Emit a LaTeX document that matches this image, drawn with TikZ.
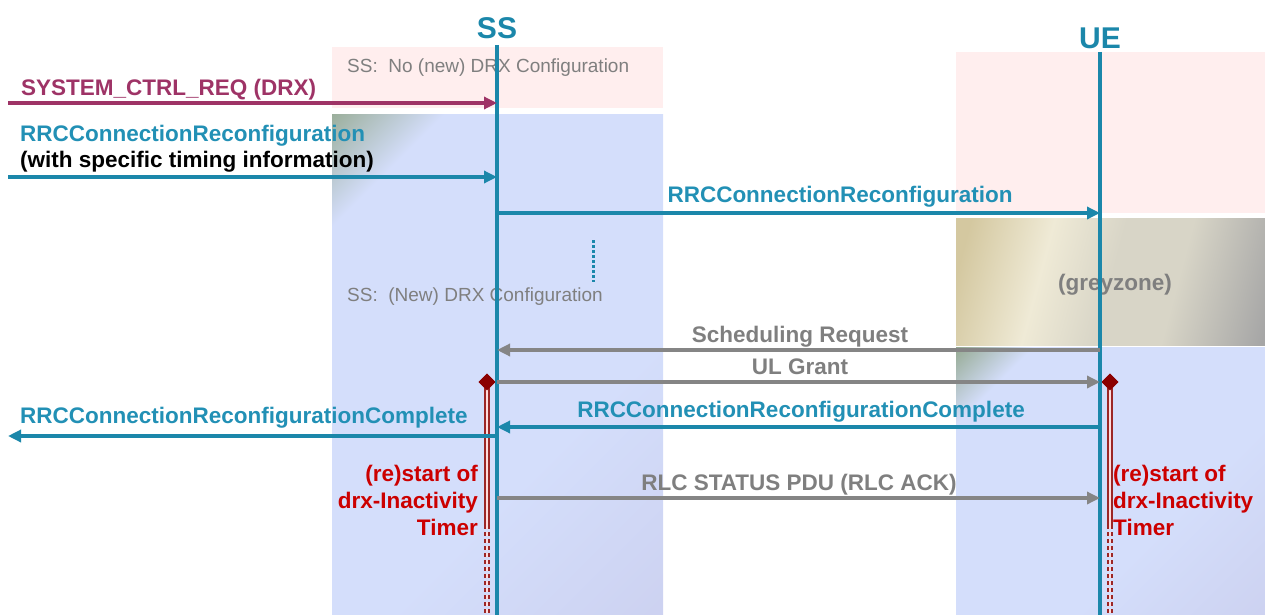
\documentclass[tikz,border=0pt]{standalone}
\usepackage{fontspec}
\setmainfont{Liberation Sans}
\usetikzlibrary{arrows.meta,shapes.geometric}
\definecolor{teal1}{HTML}{1B87AA}
\definecolor{tealtxt}{HTML}{2290B5}
\definecolor{maroon1}{HTML}{9E3366}
\definecolor{grey1}{HTML}{858585}
\definecolor{greytxt}{HTML}{7F7F7F}
\definecolor{red1}{HTML}{CC0000}
\definecolor{dred}{HTML}{8B0000}
\definecolor{pinkbg}{HTML}{FFEEEE}
\definecolor{bluebg}{HTML}{D4DEFB}
\definecolor{purplebg}{HTML}{C8CAEA}
\definecolor{greenbg}{HTML}{93A88E}
\definecolor{tanbg}{HTML}{D4C8A0}
\definecolor{creambg}{HTML}{EFEAD6}
\definecolor{beigebg}{HTML}{D8D5C7}
\definecolor{greybg}{HTML}{A6A6A6}
\pgfdeclarehorizontalshading{ssshade}{100bp}{color(0bp)=(greenbg); color(13bp)=(greenbg); color(24bp)=(bluebg); color(62bp)=(bluebg); color(100bp)=(purplebg)}
\pgfdeclarehorizontalshading{ueshade}{100bp}{color(0bp)=(greenbg); color(14bp)=(greenbg); color(24bp)=(bluebg); color(62bp)=(bluebg); color(100bp)=(purplebg)}
\pgfdeclarehorizontalshading{gzshade}{100bp}{color(0bp)=(tanbg); color(22bp)=(tanbg); color(37bp)=(creambg); color(50bp)=(beigebg); color(62bp)=(beigebg); color(80bp)=(greybg); color(100bp)=(greybg)}
\tikzset{
  lifeline/.style={draw=teal1, line width=3.2pt},
  lifetitle/.style={font=\fontsize{30}{34}\selectfont\bfseries, text=teal1, inner sep=0pt},
  msg/.style={line width=3.6pt, -{Triangle[length=13pt,width=12pt]}},
  gmsg/.style={msg, draw=grey1, line width=4.2pt},
  lbl/.style={font=\fontsize{22.5}{26}\selectfont\bfseries, inner sep=0pt},
  note/.style={font=\fontsize{19}{22}\selectfont, text=greytxt, inner sep=0pt},
  timer/.style={draw=dred!85, line width=1.8pt, double=pink!55!white, double distance=2.4pt},
  timerdash/.style={timer, dash pattern=on 4pt off 3pt},
  tdiam/.style={diamond, fill=dred, minimum size=17pt, inner sep=0pt},
  tlbl/.style={lbl, text=red1, align=left}
}
\begin{document}
\begin{tikzpicture}[x=1pt,y=-1pt]
\useasboundingbox (0,0) rectangle (1265,615);
% backgrounds
\fill[pinkbg] (332,47) rectangle (663,108);
\shade[shading=ssshade, shading angle=-45] (332,115) rectangle (663,615);
\fill[pinkbg] (956,52) rectangle (1265,213);
\shade[shading=gzshade, shading angle=-15] (956,218) rectangle (1265,345);
\shade[shading=ueshade, shading angle=-45] (956,347) rectangle (1265,615);
% notes
\node[note, anchor=base west] (n1) at (347,73) {SS:\ \ No (new) DRX Configuration};
\node[note, anchor=base west] (n2) at (347,301) {SS:\ \ (New) DRX Configuration};
\node[lbl, text=greytxt, anchor=base] (gz) at (1115,290) {(greyzone)};
\coordinate (d1) at (593,240);
\coordinate (d2) at (593,282);
\draw[teal1, line width=3pt, dotted] (d1) -- (d2);
% lifelines
\node[lifetitle] (ss) at (497,28) {SS};
\node[lifetitle] (ue) at (1100,38) {UE};
\coordinate (ssTop) at (497,45);
\coordinate (ssBot) at (497,615);
\coordinate (ueTop) at (1100,52);
\coordinate (ueBot) at (1100,615);
% timers
\node[tdiam] (tss) at (487,382) {};
\node[tdiam] (tue) at (1110,382) {};
\coordinate (tssA) at (487,525);
\coordinate (tssB) at (487,615);
\coordinate (tueA) at (1110,525);
\coordinate (tueB) at (1110,615);
\draw[timer] (tss.center) -- (tssA);
\draw[timerdash] (tssA) -- (tssB);
\draw[timer] (tue.center) -- (tueA);
\draw[timerdash] (tueA) -- (tueB);
\node[tdiam] at (tss.center) {};
\node[tdiam] at (tue.center) {};
\draw[lifeline] (ssTop) -- (ssBot);
\draw[lifeline] (ueTop) -- (ueBot);
% coordinates for messages
\coordinate (envA) at (8,103);  \coordinate (ssA) at (497,103);
\coordinate (envB) at (8,177);  \coordinate (ssB) at (497,177);
\coordinate (ssC) at (497,213); \coordinate (ueC) at (1100,213);
\coordinate (ueD) at (1100,350); \coordinate (ssD) at (497,350);
\coordinate (ssE) at (497,382); \coordinate (ueE) at (1100,382);
\coordinate (ueF) at (1100,427); \coordinate (ssF) at (497,427);
\coordinate (ssG) at (497,436); \coordinate (envG) at (8,436);
\coordinate (ssH) at (497,498); \coordinate (ueH) at (1100,498);
% messages
\draw[msg, draw=maroon1, -{Triangle[length=13pt,width=12pt,fill=maroon1]}] (envA) -- (ssA);
\node[lbl, text=maroon1, anchor=base west] (lA) at (21,96) {SYSTEM\_CTRL\_REQ (DRX)};
\draw[msg, draw=teal1] (envB) -- (ssB);
\node[lbl, text=tealtxt, anchor=base west] (lB1) at (20,141) {RRCConnectionReconfiguration};
\node[lbl, text=black, anchor=base west] (lB2) at (20,167) {(with specific timing information)};
\draw[msg, draw=teal1] (ssC) -- (ueC);
\node[lbl, text=tealtxt, anchor=base] (lC) at (840,202) {RRCConnectionReconfiguration};
\draw[gmsg] (ueD) -- (ssD);
\node[lbl, text=greytxt, anchor=base] (lD) at (800,342) {Scheduling Request};
\draw[gmsg] (ssE) -- (ueE);
\node[lbl, text=greytxt, anchor=base] (lE) at (800,374) {UL Grant};
\draw[msg, draw=teal1] (ueF) -- (ssF);
\node[lbl, text=tealtxt, anchor=base] (lF) at (801,417) {RRCConnectionReconfigurationComplete};
\draw[msg, draw=teal1] (ssG) -- (envG);
\node[lbl, text=tealtxt, anchor=base west] (lG) at (20,423) {RRCConnectionReconfigurationComplete};
\draw[gmsg] (ssH) -- (ueH);
\node[lbl, text=greytxt, anchor=base] (lH) at (799,490) {RLC STATUS PDU (RLC ACK)};
% timer labels
\node[tlbl, anchor=north east, align=right] (tlss) at (478,465) {(re)start of\\[1pt]drx-Inactivity\\[1pt]Timer};
\node[tlbl, anchor=north west] (tlue) at (1113,465) {(re)start of\\[1pt]drx-Inactivity\\[1pt]Timer};
\end{tikzpicture}
\end{document}
